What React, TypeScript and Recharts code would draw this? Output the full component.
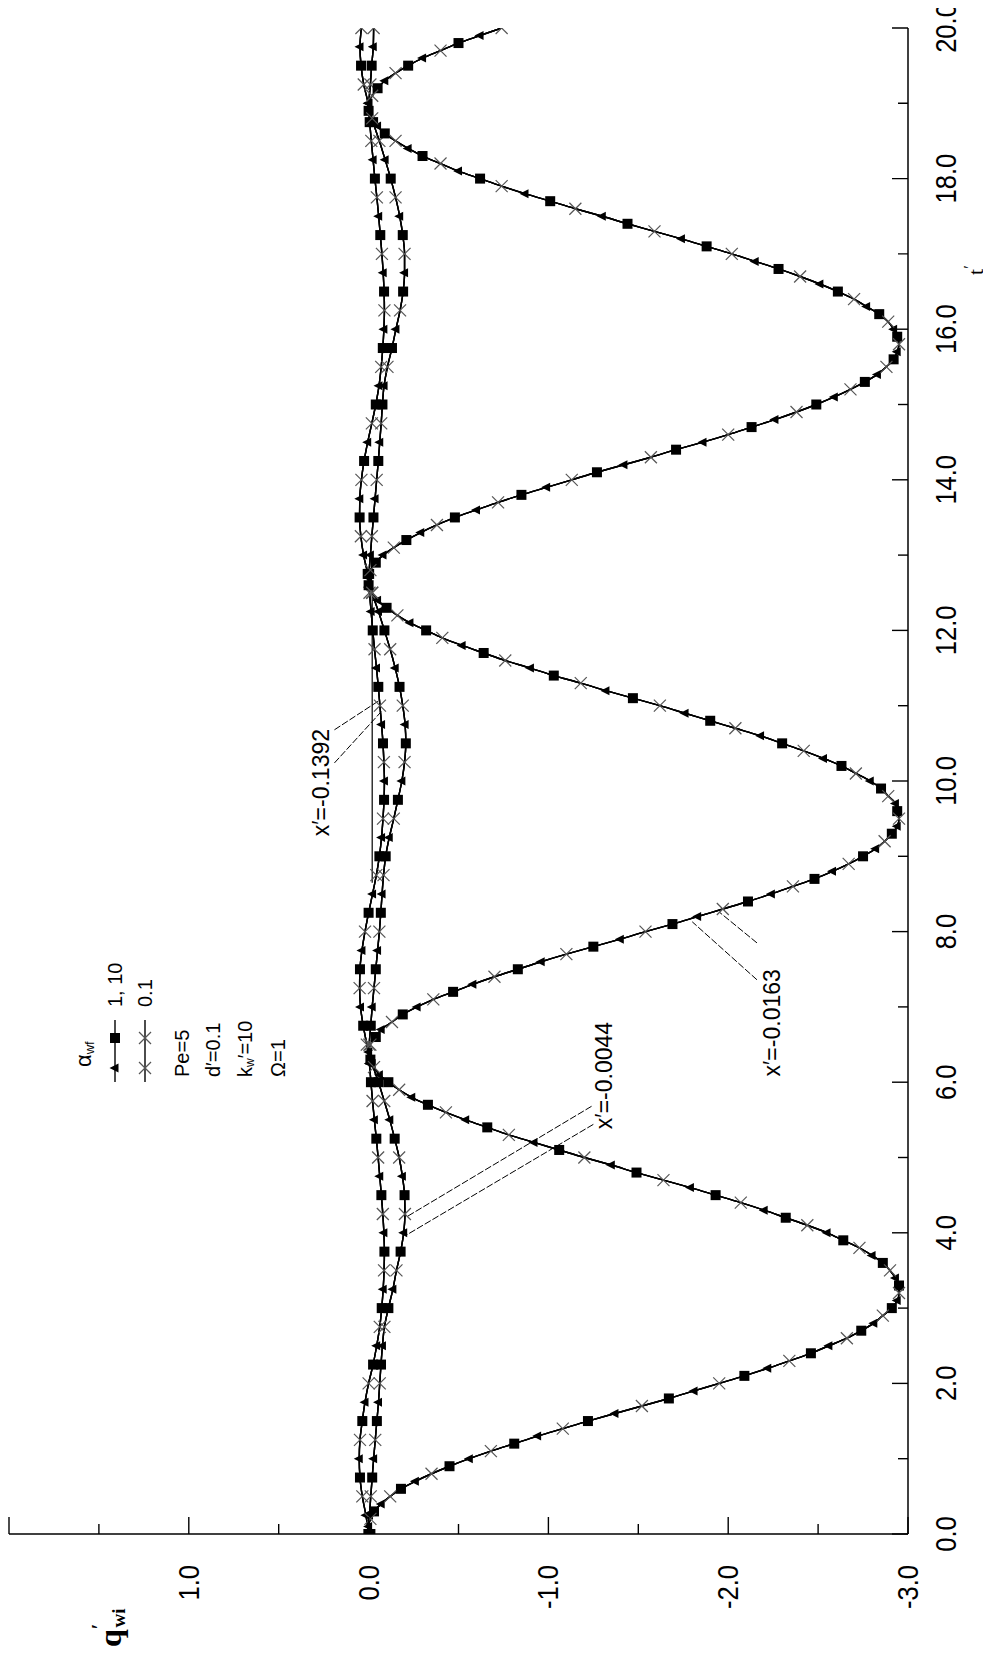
import React from 'react';
import { LineChart, Line, XAxis, YAxis, ReferenceLine, ReferenceDot, Legend } from 'recharts';

// Chart is laid out in its natural orientation (t′ across, q′wi up) and the
// whole figure is turned a quarter turn counter-clockwise on the page.
const CHART_W = 1661;
const CHART_H = 983;
const FONT = "'Liberation Sans', Arial, sans-serif";
const SERIF = "'Liberation Serif', 'Times New Roman', serif";

// fine time grid, t′
const T_FINE = [
  0, 0.1, 0.2, 0.3, 0.4, 0.5, 0.6, 0.7, 0.8, 0.9,
  1, 1.1, 1.2, 1.3, 1.4, 1.5, 1.6, 1.7, 1.8, 1.9,
  2, 2.1, 2.2, 2.3, 2.4, 2.5, 2.6, 2.7, 2.8, 2.9,
  3, 3.1, 3.2, 3.3, 3.4, 3.5, 3.6, 3.7, 3.8, 3.9,
  4, 4.1, 4.2, 4.3, 4.4, 4.5, 4.6, 4.7, 4.8, 4.9,
  5, 5.1, 5.2, 5.3, 5.4, 5.5, 5.6, 5.7, 5.8, 5.9,
  6, 6.1, 6.2, 6.3, 6.4, 6.5, 6.6, 6.7, 6.8, 6.9,
  7, 7.1, 7.2, 7.3, 7.4, 7.5, 7.6, 7.7, 7.8, 7.9,
  8, 8.1, 8.2, 8.3, 8.4, 8.5, 8.6, 8.7, 8.8, 8.9,
  9, 9.1, 9.2, 9.3, 9.4, 9.5, 9.6, 9.7, 9.8, 9.9,
  10, 10.1, 10.2, 10.3, 10.4, 10.5, 10.6, 10.7, 10.8, 10.9,
  11, 11.1, 11.2, 11.3, 11.4, 11.5, 11.6, 11.7, 11.8, 11.9,
  12, 12.1, 12.2, 12.3, 12.4, 12.5, 12.6, 12.7, 12.8, 12.9,
  13, 13.1, 13.2, 13.3, 13.4, 13.5, 13.6, 13.7, 13.8, 13.9,
  14, 14.1, 14.2, 14.3, 14.4, 14.5, 14.6, 14.7, 14.8, 14.9,
  15, 15.1, 15.2, 15.3, 15.4, 15.5, 15.6, 15.7, 15.8, 15.9,
  16, 16.1, 16.2, 16.3, 16.4, 16.5, 16.6, 16.7, 16.8, 16.9,
  17, 17.1, 17.2, 17.3, 17.4, 17.5, 17.6, 17.7, 17.8, 17.9,
  18, 18.1, 18.2, 18.3, 18.4, 18.5, 18.6, 18.7, 18.8, 18.9,
  19, 19.1, 19.2, 19.3, 19.4, 19.5, 19.6, 19.7, 19.8, 19.9,
  20,
];

// q′wi at x′ = -0.0163 (curves for α_wf = 0.1, 1 and 10 coincide)
const Q_X0163 = [
  -0.01, 0.0, -0.01, -0.03, -0.07, -0.12, -0.18, -0.26, -0.35, -0.45,
  -0.56, -0.68, -0.81, -0.94, -1.08, -1.22, -1.37, -1.52, -1.67, -1.81,
  -1.95, -2.09, -2.22, -2.34, -2.46, -2.56, -2.66, -2.74, -2.81, -2.86,
  -2.91, -2.94, -2.95, -2.95, -2.93, -2.9, -2.86, -2.8, -2.73, -2.64,
  -2.55, -2.44, -2.32, -2.2, -2.07, -1.93, -1.79, -1.64, -1.49, -1.35,
  -1.2, -1.06, -0.92, -0.78, -0.66, -0.54, -0.43, -0.33, -0.24, -0.17,
  -0.11, -0.06, -0.03, -0.01, 0.0, -0.01, -0.04, -0.07, -0.13, -0.19,
  -0.27, -0.36, -0.47, -0.58, -0.7, -0.83, -0.96, -1.1, -1.25, -1.4,
  -1.54, -1.69, -1.83, -1.97, -2.11, -2.24, -2.36, -2.48, -2.58, -2.67,
  -2.75, -2.82, -2.87, -2.91, -2.94, -2.95, -2.94, -2.93, -2.89, -2.85,
  -2.79, -2.71, -2.63, -2.53, -2.42, -2.3, -2.18, -2.04, -1.9, -1.76,
  -1.62, -1.47, -1.32, -1.18, -1.03, -0.9, -0.76, -0.64, -0.52, -0.41,
  -0.32, -0.23, -0.16, -0.1, -0.05, -0.02, 0.0, 0.0, -0.01, -0.04,
  -0.08, -0.14, -0.21, -0.29, -0.38, -0.48, -0.6, -0.72, -0.85, -0.99,
  -1.13, -1.27, -1.42, -1.57, -1.71, -1.86, -2.0, -2.13, -2.26, -2.38,
  -2.49, -2.59, -2.68, -2.76, -2.83, -2.88, -2.92, -2.94, -2.95, -2.94,
  -2.92, -2.89, -2.84, -2.77, -2.7, -2.61, -2.51, -2.4, -2.28, -2.15,
  -2.02, -1.88, -1.74, -1.59, -1.44, -1.3, -1.15, -1.01, -0.87, -0.74,
  -0.62, -0.5, -0.4, -0.3, -0.22, -0.15, -0.09, -0.05, -0.02, 0.0,
  0.0, -0.02, -0.05, -0.09, -0.15, -0.22, -0.3, -0.4, -0.5, -0.62,
  -0.74,
];

// coarse time grid, t′
const T_COARSE = [
  0, 0.25, 0.5, 0.75, 1, 1.25, 1.5, 1.75,
  2, 2.25, 2.5, 2.75, 3, 3.25, 3.5, 3.75,
  4, 4.25, 4.5, 4.75, 5, 5.25, 5.5, 5.75,
  6, 6.25, 6.5, 6.75, 7, 7.25, 7.5, 7.75,
  8, 8.25, 8.5, 8.75, 9, 9.25, 9.5, 9.75,
  10, 10.25, 10.5, 10.75, 11, 11.25, 11.5, 11.75,
  12, 12.25, 12.5, 12.75, 13, 13.25, 13.5, 13.75,
  14, 14.25, 14.5, 14.75, 15, 15.25, 15.5, 15.75,
  16, 16.25, 16.5, 16.75, 17, 17.25, 17.5, 17.75,
  18, 18.25, 18.5, 18.75, 19, 19.25, 19.5, 19.75,
  20,
];

// q′wi at x′ = -0.0044
const Q_X0044 = [
  0, -0.005, -0.012, -0.02, -0.028, -0.037, -0.046, -0.055,
  -0.062, -0.069, -0.077, -0.088, -0.11, -0.135, -0.155, -0.178,
  -0.195, -0.202, -0.2, -0.188, -0.17, -0.145, -0.118, -0.087,
  -0.055, -0.02, -0.004, -0.012, -0.02, -0.03, -0.04, -0.05,
  -0.06, -0.068, -0.075, -0.083, -0.095, -0.115, -0.14, -0.163,
  -0.185, -0.2, -0.207, -0.203, -0.19, -0.172, -0.148, -0.12,
  -0.088, -0.055, -0.02, -0.003, -0.01, -0.018, -0.027, -0.036,
  -0.045, -0.054, -0.062, -0.07, -0.077, -0.086, -0.105, -0.13,
  -0.152, -0.175, -0.192, -0.2, -0.2, -0.19, -0.173, -0.15,
  -0.123, -0.092, -0.06, -0.025, -0.002, -0.01, -0.017, -0.026,
  -0.028,
];

// q′wi at x′ = -0.1392
const Q_X1392 = [
  0, 0.015, 0.035, 0.048, 0.052, 0.048, 0.035, 0.02,
  0.0, -0.025, -0.045, -0.062, -0.073, -0.081, -0.086, -0.088,
  -0.085, -0.079, -0.071, -0.062, -0.053, -0.043, -0.032, -0.022,
  -0.013, -0.004, 0.01, 0.03, 0.045, 0.05, 0.048, 0.037,
  0.02, 0.0, -0.022, -0.043, -0.06, -0.072, -0.08, -0.086,
  -0.088, -0.085, -0.08, -0.072, -0.063, -0.054, -0.044, -0.033,
  -0.023, -0.014, -0.005, 0.005, 0.028, 0.043, 0.05, 0.049,
  0.04, 0.025, 0.005, -0.018, -0.04, -0.058, -0.07, -0.079,
  -0.085, -0.088, -0.086, -0.081, -0.074, -0.065, -0.056, -0.046,
  -0.035, -0.025, -0.015, -0.006, 0.003, 0.027, 0.042, 0.048,
  0.04,
];

// straight run of the x′ = -0.1392 trace in the second cycle
const T_X1392_LINK = [8.65, 12.6];
const Q_X1392_LINK = [-0.02, -0.02];

// axes
const T_TICKS = [0, 1, 2, 3, 4, 5, 6, 7, 8, 9, 10, 11, 12, 13, 14, 15, 16, 17, 18, 19, 20];
const T_TICK_LABELS = [0, 2, 4, 6, 8, 10, 12, 14, 16, 18, 20];
const Q_TICKS = [-3, -2.5, -2, -1.5, -1, -0.5, 0, 0.5, 1, 1.5, 2];
const Q_TICK_LABELS = [1, 0, -1, -2, -3];

// curve annotations: text anchor and leader lines, in (t′, q′wi)
const NOTE_TEXT = ['x′=-0.1392', 'x′=-0.0044', 'x′=-0.0163'];
const NOTE_T = [9.26, 5.37, 6.07];
const NOTE_Q = [0.267, -1.306, -2.244];
const LEADER_FROM_T = [10.68, 10.24, 5.68, 5.44, 7.36, 7.85];
const LEADER_FROM_Q = [0.19, 0.19, -1.24, -1.25, -2.16, -2.16];
const LEADER_TO_T = [11.07, 10.92, 4.21, 3.97, 8.13, 8.26];
const LEADER_TO_Q = [-0.06, -0.07, -0.21, -0.21, -1.8, -1.95];

const toRows = (ts: number[], qs: number[]) => ts.map((t, i) => ({ t, q: qs[i] }));

const ROWS_X0163 = toRows(T_FINE, Q_X0163);
const ROWS_X0044 = toRows(T_COARSE, Q_X0044);
const ROWS_X1392 = toRows(T_COARSE, Q_X1392);
const ROWS_X1392_LINK = toRows(T_X1392_LINK, Q_X1392_LINK);

type Shape = 'square' | 'triangle' | 'cross';

const ALPHA_SERIES: { alpha: string; shape: Shape; phase: number }[] = [
  { alpha: '10', shape: 'square', phase: 0 },
  { alpha: '1', shape: 'triangle', phase: 1 },
  { alpha: '0.1', shape: 'cross', phase: 2 },
];

const CURVES = [
  { id: 'x0044', rows: ROWS_X0044, inLegend: false },
  { id: 'x1392', rows: ROWS_X1392, inLegend: false },
  { id: 'x0163', rows: ROWS_X0163, inLegend: true },
];

const Marker = ({ shape, cx, cy }: { shape: Shape; cx: number; cy: number }) => {
  if (shape === 'square') {
    return <rect x={cx - 5} y={cy - 5} width={10} height={10} fill="#000" />;
  }
  if (shape === 'triangle') {
    return (
      <polygon
        points={`${cx},${cy - 5.5} ${cx - 4.5},${cy + 3.5} ${cx + 4.5},${cy + 3.5}`}
        fill="#000"
      />
    );
  }
  return (
    <g stroke="#555" strokeWidth={1.2}>
      <line x1={cx - 6} y1={cy - 6} x2={cx + 6} y2={cy + 6} />
      <line x1={cx - 6} y1={cy + 6} x2={cx + 6} y2={cy - 6} />
    </g>
  );
};

// every third sample carries a marker; each α_wf uses its own phase
const markerDot = (shape: Shape, phase: number) => (props: any) => {
  const { cx, cy, index } = props;
  const key = `m-${shape}-${index}`;
  if (index % 3 !== phase || cx == null || cy == null) return <g key={key} />;
  return (
    <g key={key}>
      <Marker shape={shape} cx={cx} cy={cy} />
    </g>
  );
};

const BottomTick = (props: any) => {
  const { x, y, payload } = props;
  const v = payload.value as number;
  const major = T_TICK_LABELS.includes(v);
  return (
    <g>
      <line x1={x} y1={y} x2={x} y2={y - (major ? 16 : 10)} stroke="#000" strokeWidth={1.4} />
      {major ? (
        <text
          transform={`translate(${x},${y + 38}) scale(0.88,1)`}
          textAnchor="middle"
          dominantBaseline="central"
          fontSize={29}
          fill="#000"
        >
          {v.toFixed(1)}
        </text>
      ) : null}
    </g>
  );
};

const LeftTick = (props: any) => {
  const { x, y, payload } = props;
  const v = payload.value as number;
  const major = Number.isInteger(v);
  const labelled = Q_TICK_LABELS.includes(v);
  return (
    <g>
      <line x1={x} y1={y} x2={x + (major ? 17 : 10)} y2={y} stroke="#000" strokeWidth={1.4} />
      {labelled ? (
        <text
          transform={`translate(${x - 31},${y}) scale(0.88,1)`}
          textAnchor="end"
          dominantBaseline="central"
          fontSize={29}
          fill="#000"
        >
          {v.toFixed(1)}
        </text>
      ) : null}
    </g>
  );
};

const TopTick = (props: any) => {
  const { x, y } = props;
  return <line x1={x} y1={y} x2={x} y2={y + 15} stroke="#000" strokeWidth={1.4} />;
};

const RightTick = (props: any) => {
  const { x, y, payload } = props;
  const major = Number.isInteger(payload.value);
  return <line x1={x} y1={y} x2={x - (major ? 15 : 8)} y2={y} stroke="#000" strokeWidth={1.4} />;
};

const QTitle = (props: any) => {
  const vb = props.viewBox || { x: 0, y: 0 };
  return (
    <text
      x={vb.x + 14}
      y={vb.y + 101}
      dominantBaseline="central"
      fontFamily={SERIF}
      fontWeight="bold"
      fontSize={32}
      fill="#000"
    >
      q
      <tspan fontSize={20} dy={-11}>′</tspan>
      <tspan fontSize={19} dx={-4} dy={19}>wi</tspan>
    </text>
  );
};

const TTitle = (props: any) => {
  const vb = props.viewBox || { x: 0, y: 0, width: 0 };
  return (
    <text
      x={vb.x + vb.width * 0.836}
      y={vb.y + 67}
      dominantBaseline="central"
      fontFamily={SERIF}
      fontSize={22}
      fill="#000"
    >
      t<tspan fontSize={16} dy={-6}>′</tspan>
    </text>
  );
};

const LEGEND_ROWS: { label: string; marks: Shape[] }[] = [
  { label: '1, 10', marks: ['triangle', 'square'] },
  { label: '0.1', marks: ['cross', 'cross'] },
];

const LegendPanel = () => (
  <svg width={240} height={240} style={{ overflow: 'visible', display: 'block' }} fontFamily={FONT}>
    <text x={26} y={25} dominantBaseline="central" fontSize={22} fill="#000">
      α<tspan fontSize={13} dy={6}>wf</tspan>
    </text>
    {LEGEND_ROWS.map((row, i) => {
      const y = 57 + i * 30;
      return (
        <g key={row.label}>
          <line x1={11} x2={73} y1={y} y2={y} stroke="#000" strokeWidth={1.4} />
          <Marker shape={row.marks[0]} cx={25} cy={y} />
          <Marker shape={row.marks[1]} cx={55} cy={y} />
          <text x={86} y={y} dominantBaseline="central" fontSize={20} fill="#000">
            {row.label}
          </text>
        </g>
      );
    })}
    <text x={16} y={124} dominantBaseline="central" fontSize={20} fill="#000">Pe=5</text>
    <text x={16} y={155} dominantBaseline="central" fontSize={20} fill="#000">d′=0.1</text>
    <text x={16} y={187} dominantBaseline="central" fontSize={20} fill="#000">
      k<tspan fontSize={12} dy={5}>w</tspan>
      <tspan fontSize={20} dy={-5}>′=10</tspan>
    </text>
    <text x={16} y={220} dominantBaseline="central" fontSize={20} fill="#000">Ω=1</text>
  </svg>
);

export default function App() {
  return (
    <div style={{ position: 'relative', width: CHART_H, height: CHART_W - 8, marginTop: -8 }}>
      <div
        style={{
          position: 'absolute',
          left: 0,
          top: 0,
          width: CHART_W,
          height: CHART_H,
          transformOrigin: '0 0',
          transform: `translate(0px, ${CHART_W}px) rotate(-90deg)`,
        }}
      >
        <LineChart
          width={CHART_W}
          height={CHART_H}
          margin={{ top: 1, right: 28, bottom: 0, left: 0 }}
          style={{ fontFamily: FONT, background: '#fff' }}
        >
          <XAxis
            dataKey="t"
            type="number"
            domain={[0, 20]}
            allowDataOverflow
            ticks={T_TICKS}
            interval={0}
            height={83}
            tickSize={0}
            tickMargin={0}
            tickLine={false}
            tick={<BottomTick />}
            axisLine={{ stroke: '#000', strokeWidth: 1.5 }}
            label={<TTitle />}
          />
          <XAxis
            xAxisId="top"
            orientation="top"
            type="number"
            domain={[0, 20]}
            allowDataOverflow
            ticks={T_TICK_LABELS}
            interval={0}
            height={0}
            tickSize={0}
            tickMargin={0}
            tickLine={false}
            tick={<TopTick />}
            axisLine={{ stroke: '#000', strokeWidth: 1.5 }}
          />
          <YAxis
            type="number"
            domain={[-3, 2]}
            allowDataOverflow
            ticks={Q_TICKS}
            interval={0}
            width={127}
            tickSize={0}
            tickMargin={0}
            tickLine={false}
            tick={<LeftTick />}
            axisLine={{ stroke: '#000', strokeWidth: 1.5 }}
            label={<QTitle />}
          />
          <YAxis
            yAxisId="right"
            orientation="right"
            type="number"
            domain={[-3, 2]}
            allowDataOverflow
            ticks={Q_TICKS}
            interval={0}
            width={0}
            tickSize={0}
            tickMargin={0}
            tickLine={false}
            tick={<RightTick />}
            axisLine={{ stroke: '#000', strokeWidth: 1.5 }}
          />

          <Line
            data={ROWS_X1392_LINK}
            dataKey="q"
            type="linear"
            stroke="#000"
            strokeWidth={1.2}
            dot={false}
            activeDot={false}
            legendType="none"
            isAnimationActive={false}
          />
          {CURVES.flatMap((c) =>
            ALPHA_SERIES.map((a) => (
              <Line
                key={`${c.id}-${a.alpha}`}
                name={`α_wf=${a.alpha}`}
                data={c.rows}
                dataKey="q"
                type="monotone"
                stroke="#000"
                strokeWidth={1.4}
                dot={markerDot(a.shape, a.phase)}
                activeDot={false}
                legendType={c.inLegend ? 'line' : 'none'}
                isAnimationActive={false}
              />
            ))
          )}

          {LEADER_FROM_T.map((t0, i) => (
            <ReferenceLine
              key={`leader-${i}`}
              segment={[
                { x: t0, y: LEADER_FROM_Q[i] },
                { x: LEADER_TO_T[i], y: LEADER_TO_Q[i] },
              ]}
              stroke="#000"
              strokeWidth={1}
              strokeDasharray="7 2"
              ifOverflow="visible"
            />
          ))}
          {NOTE_TEXT.map((txt, i) => (
            <ReferenceDot
              key={`note-${i}`}
              x={NOTE_T[i]}
              y={NOTE_Q[i]}
              r={0.5}
              fill="none"
              stroke="none"
              ifOverflow="visible"
              label={{ value: txt, position: 'right', offset: 0, fontSize: 23, fill: '#000', fontFamily: FONT }}
            />
          ))}

          <Legend
            content={<LegendPanel />}
            layout="horizontal"
            verticalAlign="middle"
            align="center"
            wrapperStyle={{ left: 568, top: 50, width: 240, height: 240 }}
          />
        </LineChart>
      </div>
    </div>
  );
}
